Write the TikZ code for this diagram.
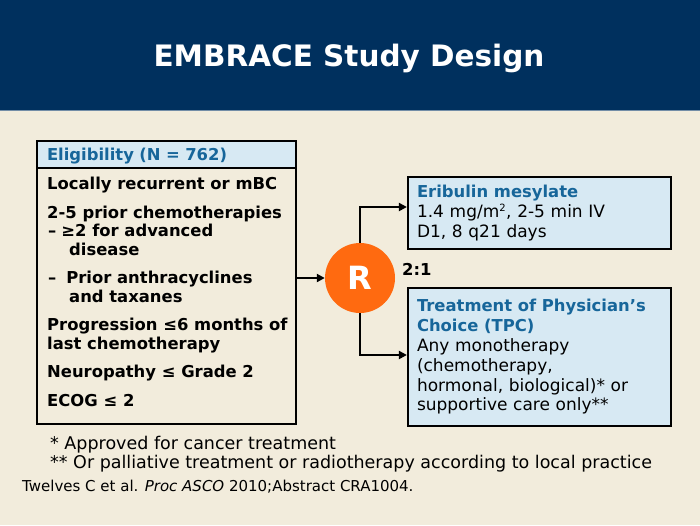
\documentclass[tikz,border=0pt]{standalone}
\usepackage{fontspec}
\setmainfont{DejaVu Sans}
\usetikzlibrary{arrows.meta, positioning}

\definecolor{navy}{HTML}{00305E}
\definecolor{paper}{HTML}{F2ECDC}
\definecolor{boxblue}{HTML}{D7E9F3}
\definecolor{textblue}{HTML}{17669A}
\definecolor{randorange}{HTML}{FF6A10}

\newcommand{\sz}[2]{\fontsize{#1}{#2}\selectfont}

\begin{document}
\begin{tikzpicture}[x=1pt, y=-1pt,
    arr/.style={-{Triangle[length=8pt,width=8pt]}, line width=2pt},
    armbox/.style={draw, line width=2.2pt, fill=boxblue, minimum width=263pt,
        text width=245pt, inner xsep=9pt, align=left, font=\sz{17}{19.8}},
    note/.style={anchor=west, inner sep=0pt, font=\sz{17.5}{20}}]
            \useasboundingbox (0,0) rectangle (700,525);
            % Background and title bar

            \fill[paper] (0,0) rectangle (700,525);
            \fill[navy] (0,0) rectangle (700,110);
            \draw[navy!55!white, line width=1.5pt] (0,110.5) -- (700,110.5);
            \node[font=\bfseries\sz{29.5}{34}, text=white] (title) at (349,58) {EMBRACE Study Design};

            % Eligibility box
            \node[draw, line width=1.4pt, minimum width=259pt, minimum height=283pt] (eligBox) at (166.5,282.5) {};
            \node[draw, line width=1.4pt, fill=boxblue, anchor=north west, minimum width=259pt, minimum height=27pt,
                text width=239pt, inner xsep=10pt, text depth=0pt, align=left, font=\bfseries\sz{16.4}{19}, text=textblue]
                (eligHead) at (eligBox.north west) {Eligibility (N = 762)};
            \node[anchor=west, inner sep=0pt, align=left, font=\bfseries\sz{16.4}{18.5}] (eligText) at (47,292)
                {Locally recurrent or mBC\\[10pt]
                 2-5 prior chemotherapies\\
                 \hspace*{1pt}–\hspace{5pt}≥2 for advanced\\
                 \hspace*{22pt}disease\\[10pt]
                 \hspace*{1pt}–\hspace{10pt}Prior anthracyclines\\
                 \hspace*{22pt}and taxanes\\[10pt]
                 Progression ≤6 months of\\
                 last chemotherapy\\[10pt]
                 Neuropathy ≤ Grade 2\\[10pt]
                 ECOG ≤ 2};

            % Randomisation
            \node[circle, fill=randorange, minimum size=70pt, inner sep=0pt, text=white, font=\bfseries\sz{32}{36}] (rand) at (360,278) {R};
            \node[anchor=west, inner sep=0pt, font=\bfseries\sz{16.4}{19}] (ratio) at (402,269) {2:1};

            % Treatment arms
            \node[armbox, minimum height=72pt] (eribulin) at (539.5,213)
                {\textcolor{textblue}{\bfseries\sz{16.4}{19.8}Eribulin mesylate}\\
                 1.4 mg/m\textsuperscript{\sz{10}{10}2}, 2-5 min IV\\
                 D1, 8 q21 days};
            \node[armbox, minimum height=138pt] (tpc) at (539.5,357)
                {\textcolor{textblue}{\bfseries\sz{16.4}{19.8}Treatment of Physician’s\\Choice (TPC)}\\
                 Any monotherapy\\
                 (chemotherapy,\\
                 hormonal, biological)* or\\
                 supportive care only**};

            \draw[arr] (eligBox.east |- rand.west) -- (rand.west);
            \draw[arr] (rand.north) |- ([yshift=6pt]eribulin.west);
            \draw[arr] (rand.south) |- ([yshift=2pt]tpc.west);

            % Footnotes
            \node[note] (fnA) at (50,444.5) {* Approved for cancer treatment};
            \node[note] (fnB) at (50,464) {** Or palliative treatment or radiotherapy according to local practice};
            \node[note, font=\sz{15}{18}] (cite) at (22,487) {Twelves C et al. \textit{Proc ASCO} 2010;Abstract CRA1004.};

        \end{tikzpicture}
\end{document}
